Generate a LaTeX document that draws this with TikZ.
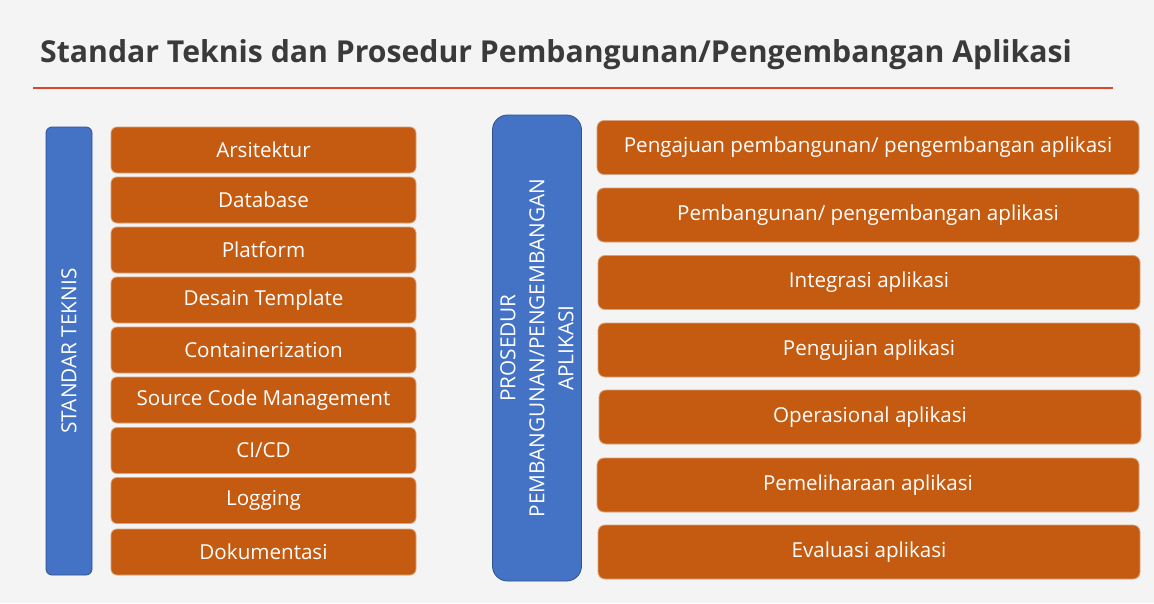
\documentclass[tikz,border=0pt]{standalone}
\usepackage{fontspec}
\setmainfont{Open Sans}
\definecolor{bg}{HTML}{F4F4F4}
\definecolor{obox}{HTML}{C55A11}
\definecolor{oedge}{HTML}{D9A27C}
\definecolor{bbox}{HTML}{4472C4}
\definecolor{bedge}{HTML}{2F528F}
\definecolor{redline}{HTML}{D9472B}
\definecolor{titlec}{HTML}{3A3A3A}
\tikzset{
  item/.style={rectangle, rounded corners=6pt, fill=obox, draw=oedge, line width=0.8pt,
    text=white, font=\fontsize{20.6}{23}\selectfont, inner sep=0pt},
  ritem/.style={item, rounded corners=7pt, minimum width=542pt, minimum height=54pt},
  litem/.style={item, minimum width=305pt, minimum height=46pt},
  bar/.style={rectangle, fill=bbox, draw=bedge, line width=0.8pt, inner sep=0pt},
  bartext/.style={text=white, rotate=90, align=center, font=\fontsize{20.8}{29}\selectfont}
}
\begin{document}
\begin{tikzpicture}[x=1pt,y=-1pt]
\useasboundingbox (0,0) rectangle (1154,603);
\fill[bg] (0,0) rectangle (1154,603);
\node[anchor=base west, text=titlec, font=\fontsize{30.2}{36}\selectfont\bfseries, inner sep=0pt] (title) at (40,62) {Standar Teknis dan Prosedur Pembangunan/Pengembangan Aplikasi};
\coordinate (ls) at (33,88);
\coordinate (le) at (1113,88);
\draw[redline, line width=2pt] (ls) -- (le);
% left
\node[bar, rounded corners=6pt, minimum width=46pt, minimum height=448pt] (lbar) at (69,351) {};
\node[bartext] (lbart) at (lbar.center) {STANDAR TEKNIS};
\node[litem] (l1) at (263.5,150) {Arsitektur};
\node[litem] (l2) at (263.5,200) {Database};
\node[litem] (l3) at (263.5,250) {Platform};
\node[litem] (l4) at (263.5,300) {Desain Template};
\node[litem] (l5) at (263.5,350) {Containerization};
\node[litem] (l6) at (263.5,400) {Source Code Management};
\node[litem] (l7) at (263.5,450.5) {CI/CD};
\node[litem] (l8) at (263.5,500.5) {Logging};
\node[litem] (l9) at (263.5,552) {Dokumentasi};
% right
\node[bar, rounded corners=15pt, minimum width=89pt, minimum height=466pt] (rbar) at (537,348) {};
\node[bartext] (rbart) at (rbar.center) {PROSEDUR\\PEMBANGUNAN/PENGEMBANGAN\\APLIKASI};
\node[ritem] (r1) at (868,147.5) {Pengajuan pembangunan/ pengembangan aplikasi};
\node[ritem] (r2) at (868,215) {Pembangunan/ pengembangan aplikasi};
\node[ritem] (r3) at (869,282.5) {Integrasi aplikasi};
\node[ritem] (r4) at (869,350) {Pengujian aplikasi};
\node[ritem] (r5) at (870,417) {Operasional aplikasi};
\node[ritem] (r6) at (868,485) {Pemeliharaan aplikasi};
\node[ritem] (r7) at (869,552) {Evaluasi aplikasi};
\end{tikzpicture}
\end{document}
